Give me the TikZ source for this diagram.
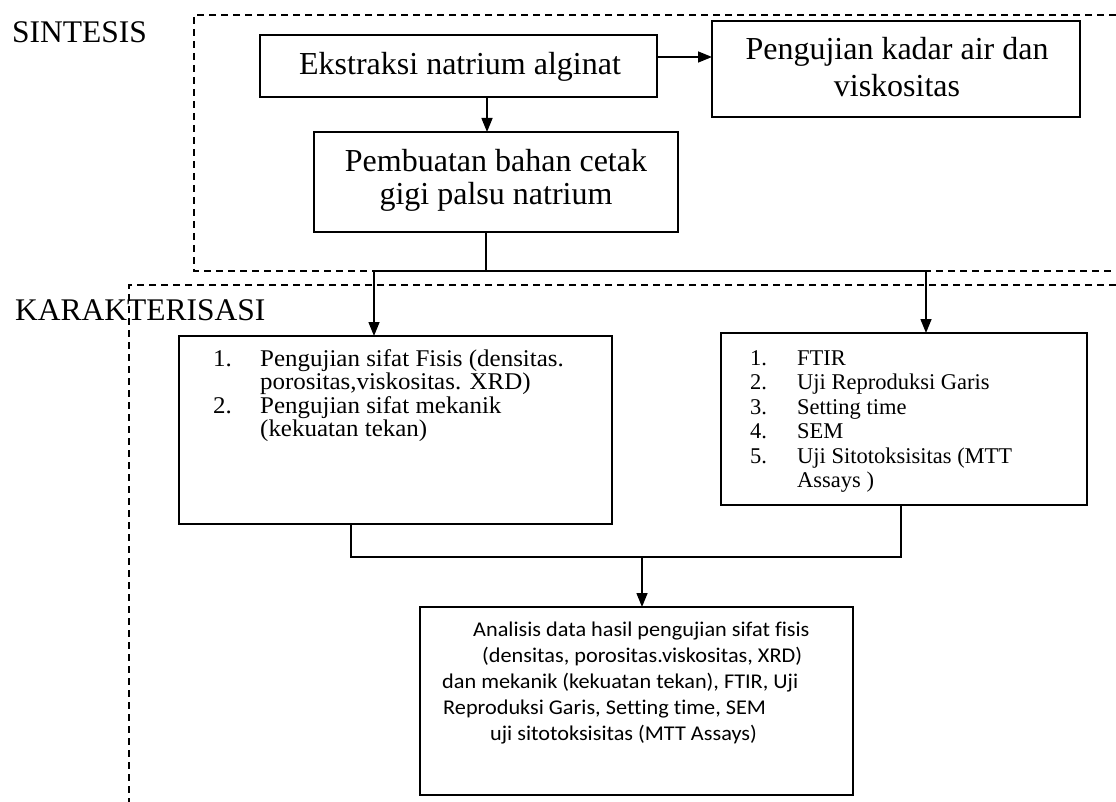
\documentclass[tikz,border=0pt]{standalone}
\usepackage{fontspec}
\setmainfont{Liberation Serif}
\newfontfamily\wideserif[FakeStretch=1.04]{Liberation Serif}
\newfontfamily\calib[FakeStretch=1.06,Ligatures=NoCommon]{Carlito}
\usetikzlibrary{arrows.meta}
\begin{document}
\begin{tikzpicture}[x=1pt,y=-1pt,
  box/.style={draw, line width=1.5pt, inner sep=0pt, outer sep=0pt},
  conn/.style={line width=1.5pt},
  arr/.style={line width=1.5pt, -{Triangle[length=14pt,width=11pt]}},
  dashline/.style={line width=1.5pt, dash pattern=on 7pt off 5pt},
  lab/.style={font=\fontsize{31.5}{36}\selectfont, inner sep=0pt, anchor=base west},
  big/.style={font=\fontsize{32}{37}\selectfont, inner sep=0pt, anchor=base},
  lstA/.style={font=\wideserif\fontsize{24}{27}\selectfont, inner sep=0pt, anchor=base west},
  lstB/.style={font=\fontsize{22.5}{26}\selectfont, inner sep=0pt, anchor=base west},
  sans/.style={font=\calib\fontsize{21}{25}\selectfont, inner sep=0pt, anchor=base west}
]
\useasboundingbox (0,0) rectangle (1116,802);
\fill[white] (0,0) rectangle (1116,802);

% dashed regions
\draw[dashline] (1116,15) -- (194,15) -- (194,271) -- (1116,271);
\draw[dashline] (1116,285) -- (129,285) -- (129,802);

% labels
\node[lab] (sint) at (12,43) {SINTESIS};
\node[lab] (kar) at (15,320) {KARAKTERISASI};

% boxes
\node[box, minimum width=397pt, minimum height=62pt] (ek) at (458.5,66) {};
\node[box, minimum width=368pt, minimum height=96pt] (pk) at (896,69) {};
\node[box, minimum width=364pt, minimum height=100pt] (pb) at (496,182) {};
\node[box, minimum width=433pt, minimum height=188pt] (b1) at (395.5,430) {};
\node[box, minimum width=366pt, minimum height=172pt] (b2) at (904,419) {};
\node[box, minimum width=433pt, minimum height=188pt] (b3) at (636.5,701) {};

% box texts
\node[big] (tek) at (460,75) {Ekstraksi natrium alginat};
\node[big] (tpk1) at (897,60) {Pengujian kadar air dan};
\node[big] (tpk2) at (897,97) {viskositas};
\node[big] (tpb1) at (496,172) {Pembuatan bahan cetak};
\node[big] (tpb2) at (496,205) {gigi palsu natrium};

\node[lstA] (n11) at (213,366) {1.};
\node[lstA] (t11) at (260,366) {Pengujian sifat Fisis (densitas.};
\node[lstA] (t12) at (260,389.5) {porositas,viskositas. XRD)};
\node[lstA] (n12) at (213,413) {2.};
\node[lstA] (t13) at (260,413) {Pengujian sifat mekanik};
\node[lstA] (t14) at (260,436.5) {(kekuatan tekan)};

\node[lstB] (n21) at (750,365) {1.};
\node[lstB] (t21) at (797,365) {FTIR};
\node[lstB] (n22) at (750,389.5) {2.};
\node[lstB] (t22) at (797,389.5) {Uji Reproduksi Garis};
\node[lstB] (n23) at (750,414) {3.};
\node[lstB] (t23) at (797,414) {Setting time};
\node[lstB] (n24) at (750,438.5) {4.};
\node[lstB] (t24) at (797,438.5) {SEM};
\node[lstB] (n25) at (750,463) {5.};
\node[lstB] (t25) at (797,463) {Uji Sitotoksisitas (MTT};
\node[lstB] (t26) at (797,487.5) {Assays )};

\node[sans] (s1) at (473,636) {Analisis data hasil pengujian sifat fisis};
\node[sans] (s2) at (482,662) {(densitas, porositas.viskositas, XRD)};
\node[sans] (s3) at (442,688) {dan mekanik (kekuatan tekan), FTIR, Uji};
\node[sans] (s4) at (443,714) {Reproduksi Garis, Setting time, SEM};
\node[sans] (s5) at (490,740) {uji sitotoksisitas (MTT Assays)};

% connectors
\draw[arr] (ek.east |- 0,57) -- (pk.west |- 0,57);
\draw[arr] (ek.south -| 487,0) -- (pb.north -| 487,0);
\coordinate (split) at (486,271);
\coordinate (sl) at (374,271);
\coordinate (sr) at (926,271);
\draw[conn] (pb.south -| split) -- (split);
\draw[conn] (sl) -- (sr);
\draw[arr] (sl) -- (b1.north -| sl);
\draw[arr] (sr) -- (b2.north -| sr);
\coordinate (jl) at (351,557);
\coordinate (jr) at (901,557);
\coordinate (jm) at (642,557);
\draw[conn] (b1.south -| jl) -- (jl) -- (jr) -- (b2.south -| jr);
\draw[arr] (jm) -- (b3.north -| jm);
\end{tikzpicture}
\end{document}
